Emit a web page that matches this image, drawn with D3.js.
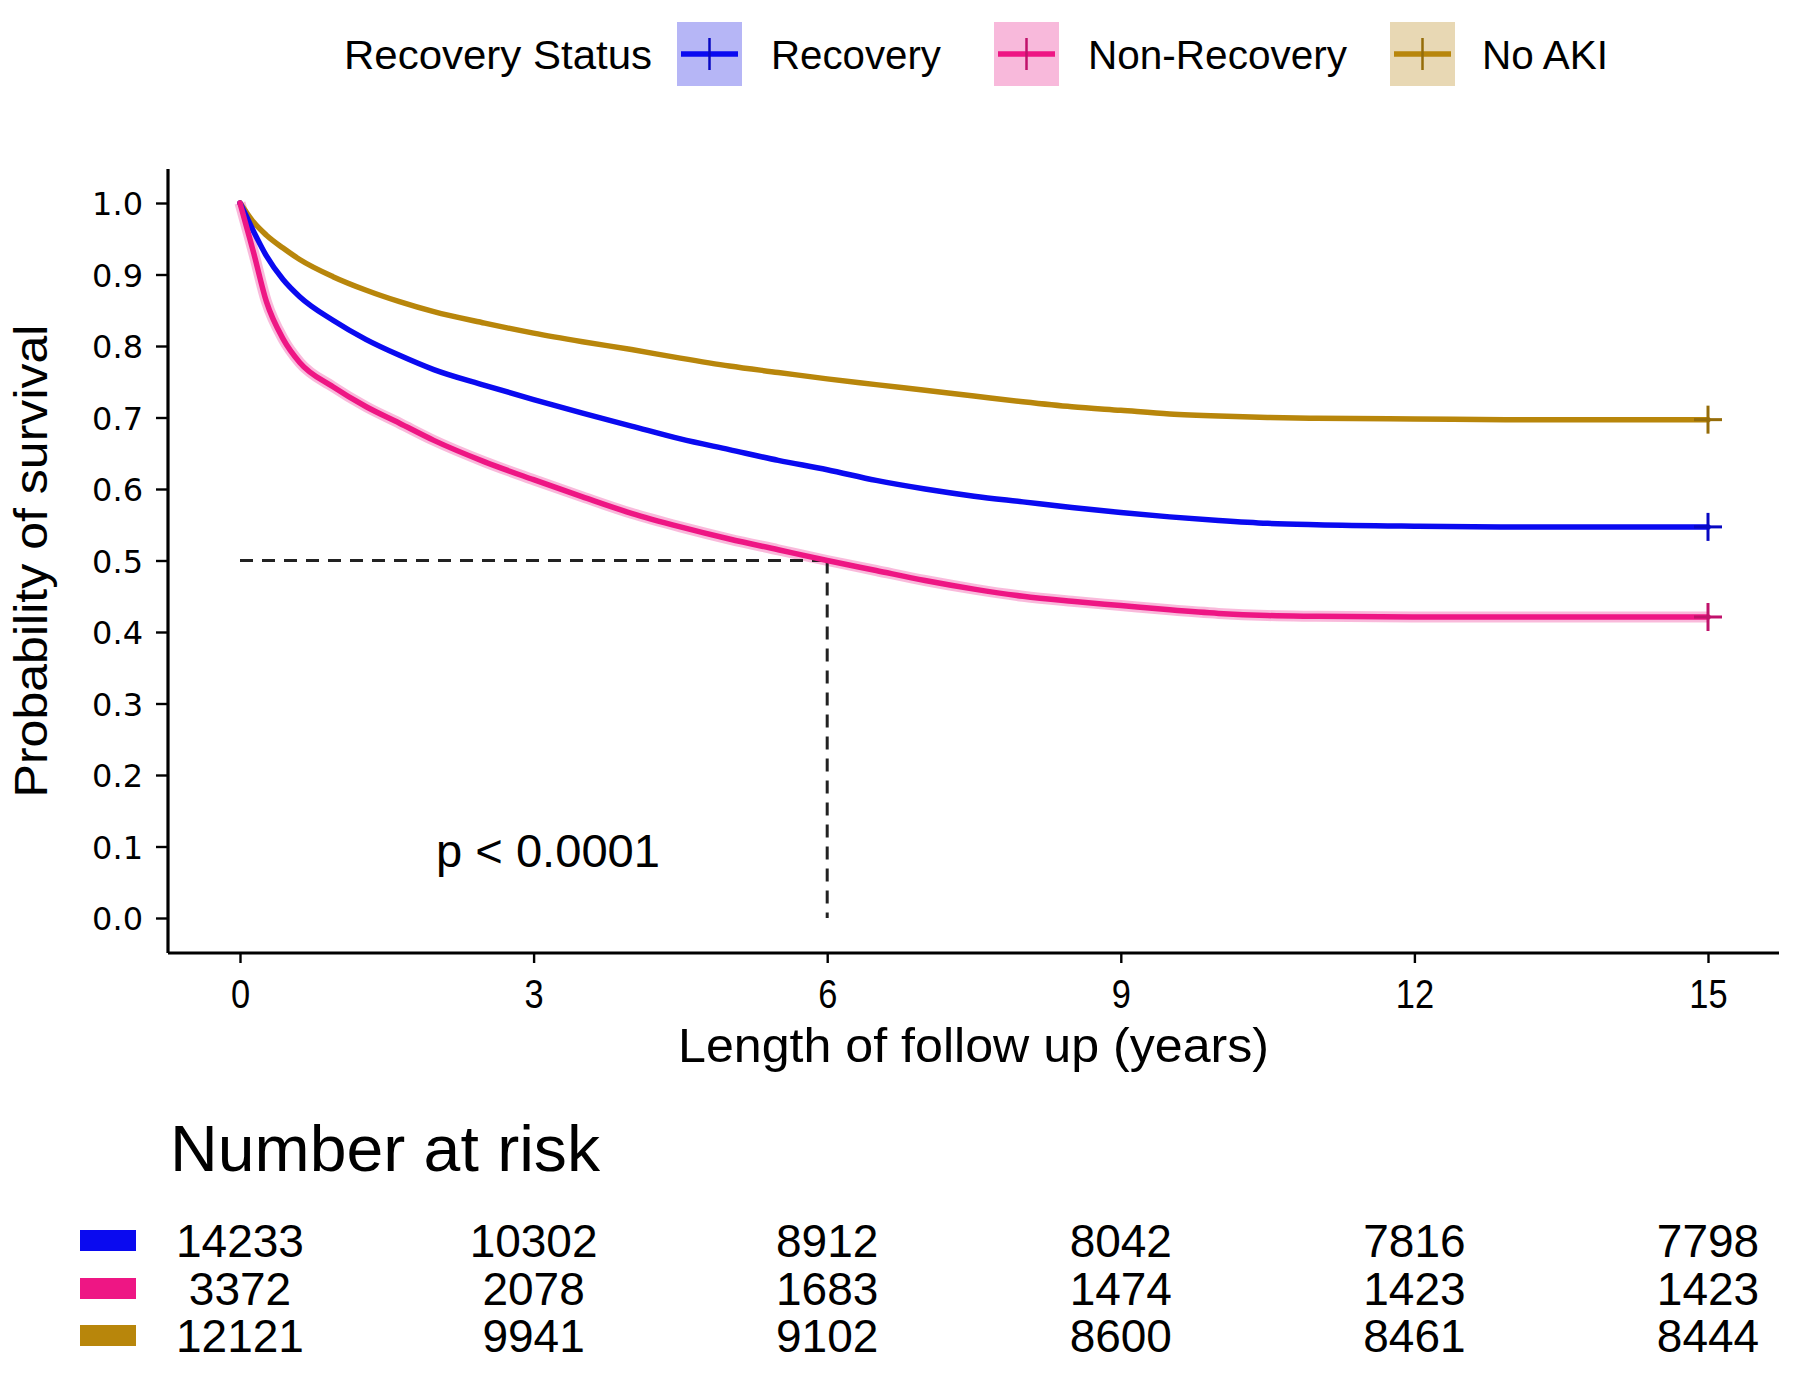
<!DOCTYPE html>
<html>
<head>
<meta charset="utf-8">
<script src="https://cdn.jsdelivr.net/npm/d3@7"></script>
<style>
  html, body { margin: 0; padding: 0; background: #fff; }
  svg { display: block; }
  text { font-family: "Liberation Sans", Arial, sans-serif; fill: #000; }
</style>
</head>
<body>
<svg id="chart" width="1800" height="1381"></svg>
<script>
// ---------------- data ----------------
const groups = ["Recovery", "Non-Recovery", "No AKI"];
const colors = ["#0a0af0", "#ee1684", "#b8860b"];
const keyFills = ["#b6b6f6", "#f8b9db", "#e8d8b4"];
const times = [0,0.07,0.14,0.27,0.44,0.61,0.95,1.29,1.63,1.98,2.5,3,3.5,4,4.5,5,5.5,6,6.5,7,7.5,8,8.5,9,9.5,10,10.5,11,12,13,14,15];
const recovery = [1,0.98,0.96,0.926,0.893,0.869,0.836,0.809,0.787,0.767,0.745,0.725,0.706,0.688,0.67,0.655,0.64,0.627,0.612,0.60,0.59,0.582,0.574,0.567,0.561,0.556,0.552,0.55,0.548,0.547,0.547,0.547];
const nonRecovery = [1,0.965,0.93,0.862,0.81,0.777,0.743,0.715,0.692,0.668,0.638,0.613,0.589,0.566,0.547,0.53,0.515,0.50,0.486,0.472,0.46,0.45,0.443,0.437,0.431,0.426,0.423,0.422,0.421,0.421,0.421,0.421];
const noAKI = [1,0.986,0.973,0.955,0.937,0.921,0.897,0.878,0.862,0.848,0.832,0.818,0.806,0.795,0.783,0.772,0.763,0.754,0.746,0.738,0.73,0.722,0.715,0.71,0.705,0.702,0.70,0.699,0.698,0.697,0.697,0.697];
const seriesValues = [recovery, nonRecovery, noAKI];

const xTicks = [0,3,6,9,12,15];
const yTicks = [0,0.1,0.2,0.3,0.4,0.5,0.6,0.7,0.8,0.9,1.0];
const medianTime = 6;
const medianSurv = 0.5;
const pText = "p < 0.0001";

const riskTimes = [0,3,6,9,12,15];
const riskRecovery = [14233,10302,8912,8042,7816,7798];
const riskNonRecovery = [3372,2078,1683,1474,1423,1423];
const riskNoAKI = [12121,9941,9102,8600,8461,8444];
const riskRows = [riskRecovery, riskNonRecovery, riskNoAKI];

// ---------------- layout ----------------
const svg = d3.select("#chart");
const x = d3.scaleLinear().domain([0, 15]).range([240, 1708]);
const y = d3.scaleLinear().domain([0, 1]).range([918, 203]);
const axisLeftX = 168, axisBottomY = 953, axisTopY = 169, axisRightX = 1779;

function fitWidth(sel, w) {
  sel.attr("textLength", w).attr("lengthAdjust", "spacingAndGlyphs");
}

const line = d3.line().x(d => x(d[0])).y(d => y(d[1])).curve(d3.curveMonotoneX);
const seriesData = seriesValues.map(v => times.map((t, i) => [t, v[i]]));

// pink confidence halo (drawn as a wide translucent stroke)
svg.append("path").datum(seriesData[1])
  .attr("d", line).attr("fill", "none")
  .attr("stroke", "#f7a9d2").attr("stroke-width", 11)
  .attr("stroke-linejoin", "round").attr("opacity", 0.8);

// median dashed lines
svg.append("line")
  .attr("x1", x(0)).attr("x2", x(medianTime))
  .attr("y1", y(medianSurv)).attr("y2", y(medianSurv))
  .attr("stroke", "#222").attr("stroke-width", 3).attr("stroke-dasharray", "13,9");
svg.append("line")
  .attr("x1", x(medianTime)).attr("x2", x(medianTime))
  .attr("y1", y(medianSurv)).attr("y2", y(0))
  .attr("stroke", "#222").attr("stroke-width", 3).attr("stroke-dasharray", "13,9");

[2, 0, 1].forEach(i => {
  svg.append("path").datum(seriesData[i])
    .attr("d", line).attr("fill", "none")
    .attr("stroke", colors[i]).attr("stroke-width", 5.5)
    .attr("stroke-linejoin", "round").attr("stroke-linecap", "round");
  const last = seriesData[i][seriesData[i].length - 1];
  const cx = x(last[0]), cy = y(last[1]);
  const dark = d3.color(colors[i]).darker(0.6).toString();
  svg.append("line").attr("x1", cx).attr("x2", cx).attr("y1", cy - 14).attr("y2", cy + 14)
    .attr("stroke", dark).attr("stroke-width", 3);
  svg.append("line").attr("x1", cx - 14).attr("x2", cx + 14).attr("y1", cy).attr("y2", cy)
    .attr("stroke", dark).attr("stroke-width", 3);
});

// axes
const gx = svg.append("g").attr("transform", `translate(0,${axisBottomY})`)
  .call(d3.axisBottom(x).tickValues(xTicks).tickSize(10).tickSizeOuter(0).tickFormat(d3.format("d")));
gx.select(".domain").attr("d", `M${axisLeftX},0H${axisRightX}`).attr("stroke-width", 3.2);
gx.selectAll(".tick line").attr("stroke-width", 2.4);
gx.selectAll(".tick text").attr("y", 55).attr("dy", null)
  .style("font-family", "'Liberation Sans', Arial, sans-serif").style("font-size", "40px").attr("fill", "#000")
  .each(function () { const w = this.getComputedTextLength(); d3.select(this).attr("textLength", w * 0.86).attr("lengthAdjust", "spacingAndGlyphs"); });

const gy = svg.append("g").attr("transform", `translate(${axisLeftX},0)`)
  .call(d3.axisLeft(y).tickValues(yTicks).tickSize(12).tickSizeOuter(0).tickFormat(d3.format(".1f")));
gy.select(".domain").attr("d", `M0,${axisTopY}V${axisBottomY}`).attr("stroke-width", 3.2);
gy.selectAll(".tick line").attr("stroke-width", 2.4);
gy.selectAll(".tick text").attr("x", -25).attr("dy", "0.36em")
  .style("font-family", "'DejaVu Sans', sans-serif").style("font-size", "32px").attr("fill", "#1a1a1a");

// axis titles
svg.append("text").attr("x", (axisLeftX + axisRightX) / 2).attr("y", 1062)
  .attr("text-anchor", "middle").style("font-size", "48px")
  .text("Length of follow up (years)").call(fitWidth, 591);
svg.append("text").attr("transform", `translate(47,${(axisTopY + axisBottomY) / 2}) rotate(-90)`)
  .attr("text-anchor", "middle").style("font-size", "46px")
  .text("Probability of survival").call(fitWidth, 473);

// p-value
svg.append("text").attr("x", 436).attr("y", 867).style("font-size", "46px")
  .text(pText).call(fitWidth, 224);

// legend
const legY = 54;
svg.append("text").attr("x", 344).attr("y", legY + 15).style("font-size", "40px")
  .text("Recovery Status").call(fitWidth, 308);
const keyX = [677, 994, 1390];
const labX = [771, 1088, 1482];
const labW = [170, 259, 126];
groups.forEach((g, i) => {
  svg.append("rect").attr("x", keyX[i]).attr("y", legY - 32).attr("width", 65).attr("height", 64)
    .attr("fill", keyFills[i]);
  svg.append("line").attr("x1", keyX[i] + 4).attr("x2", keyX[i] + 61).attr("y1", legY).attr("y2", legY)
    .attr("stroke", colors[i]).attr("stroke-width", 5.5);
  svg.append("line").attr("x1", keyX[i] + 32.5).attr("x2", keyX[i] + 32.5).attr("y1", legY - 16).attr("y2", legY + 16)
    .attr("stroke", d3.color(colors[i]).darker(0.6)).attr("stroke-width", 2.5);
  svg.append("text").attr("x", labX[i]).attr("y", legY + 15).style("font-size", "40px")
    .text(g).call(fitWidth, labW[i]);
});

// risk table
svg.append("text").attr("x", 170).attr("y", 1171).style("font-size", "64px")
  .text("Number at risk").call(fitWidth, 430);
const rowY = [1257, 1305, 1352];
riskRows.forEach((row, r) => {
  svg.append("rect").attr("x", 80).attr("y", rowY[r] - 27).attr("width", 56).attr("height", 21)
    .attr("fill", colors[r]);
  row.forEach((n, j) => {
    svg.append("text").attr("x", x(riskTimes[j])).attr("y", rowY[r])
      .attr("text-anchor", "middle").style("font-size", "46px").text(n);
  });
});
</script>
</body>
</html>
